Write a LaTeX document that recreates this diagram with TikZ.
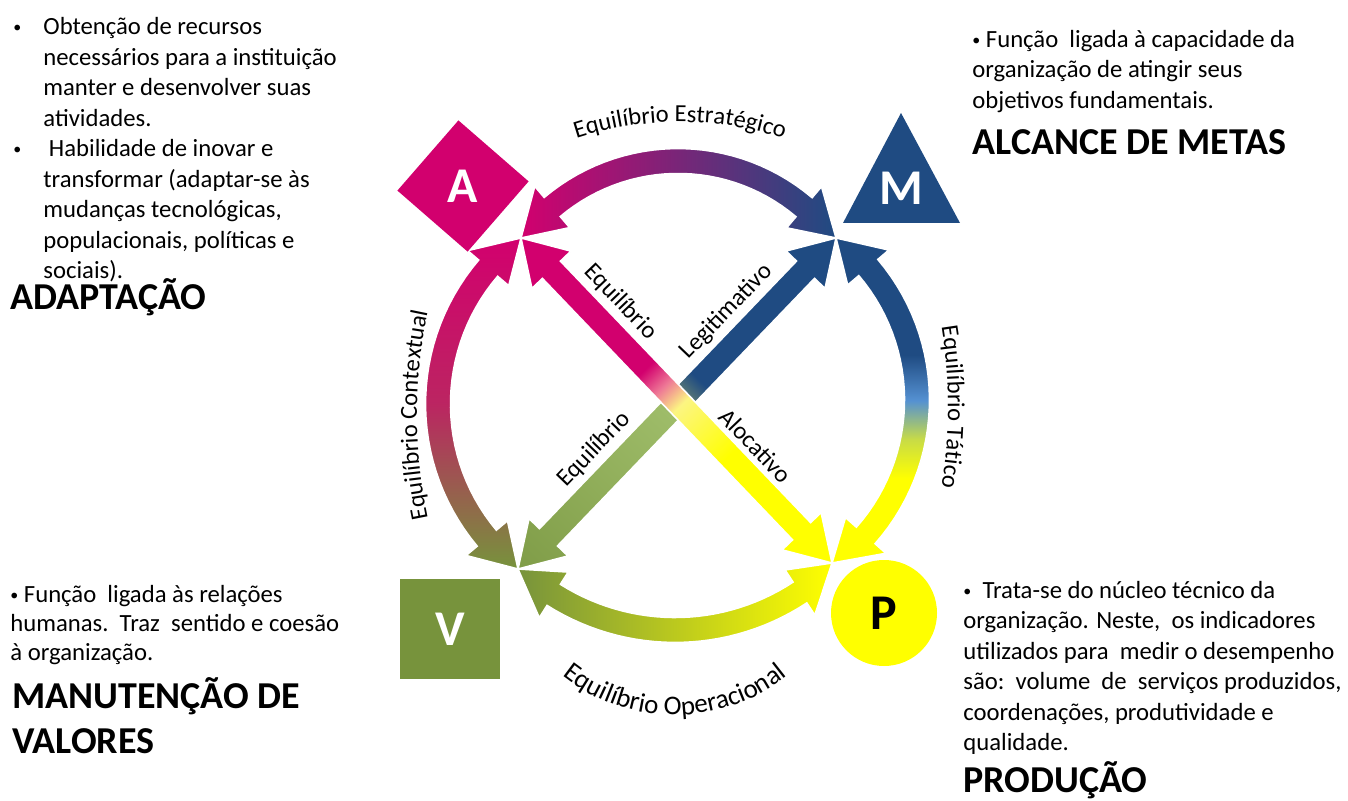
\documentclass[tikz,border=0pt]{standalone}
\usepackage{fontspec}
\setmainfont{Carlito}
\usetikzlibrary{calc,decorations.text}

\definecolor{magA}{RGB}{210,0,110}
\definecolor{navyM}{RGB}{31,75,130}
\definecolor{oliveV}{RGB}{119,147,60}
\definecolor{yellowP}{RGB}{255,255,0}
\definecolor{greenmid}{RGB}{158,188,105}
\definecolor{greenend}{RGB}{128,157,72}
\definecolor{skyblue}{RGB}{85,145,210}
\definecolor{pinkfade}{RGB}{238,120,150}
\definecolor{yellowfade}{RGB}{252,245,130}
\definecolor{greyfade}{RGB}{95,125,115}
\definecolor{limefade}{RGB}{200,220,70}

\pgfdeclarehorizontalshading{alocshade}{100bp}{color(0bp)=(magA); color(43bp)=(magA); color(47bp)=(pinkfade); color(51bp)=(yellowfade); color(62bp)=(yellowP); color(100bp)=(yellowP)}
\pgfdeclarehorizontalshading{legishade}{100bp}{color(0bp)=(navyM); color(45bp)=(navyM); color(48.5bp)=(greyfade); color(52bp)=(greenmid); color(85bp)=(greenend); color(100bp)=(greenend)}
\pgfdeclareverticalshading{taticoshade}{100bp}{color(0bp)=(yellowP); color(38bp)=(yellowP); color(44bp)=(limefade); color(50bp)=(skyblue); color(57bp)=(navyM); color(100bp)=(navyM)}

\newcommand{\arcfont}{\fontsize{12.25}{14}\selectfont}
\newcommand{\smallbullet}{\raisebox{0.8pt}{\fontsize{8}{8}\selectfont •}}

% curved band: centre, radius, tip angles, tips, shading
\newcommand{\bentarrow}[7]{%
  \pgfmathsetmacro{\hsign}{ifthenelse(#4>#3,1,-1)}
  \pgfmathsetmacro{\baseA}{#3+\hsign*44/#2*180/pi}
  \pgfmathsetmacro{\baseB}{#4-\hsign*44/#2*180/pi}
  \begin{scope}[shift={(#1)}]
    \shadedraw[bandline,#7] (#5) -- (\baseA:{#2+27}) -- (\baseA:{#2+12.5})
      -- plot[domain=\baseA:\baseB, samples=30] (\x:{#2+12.5})
      -- (\baseB:{#2+27}) -- (#6) -- (\baseB:{#2-27}) -- (\baseB:{#2-12.5})
      -- plot[domain=\baseB:\baseA, samples=30] (\x:{#2-12.5})
      -- (\baseA:{#2-27}) -- cycle;
  \end{scope}}

% straight band between two tips
\newcommand{\crossarrow}[3]{%
  \coordinate (baseS) at ($(#1)!22pt!(#2)$);
  \coordinate (baseE) at ($(#2)!22pt!(#1)$);
  \shadedraw[bandline,#3] (#1) -- ($(baseS)!13.5pt!90:(#2)$) -- ($(baseS)!6.25pt!90:(#2)$)
    -- ($(baseE)!6.25pt!-90:(#1)$) -- ($(baseE)!13.5pt!-90:(#1)$) -- (#2)
    -- ($(baseE)!13.5pt!90:(#1)$) -- ($(baseE)!6.25pt!90:(#1)$)
    -- ($(baseS)!6.25pt!-90:(#2)$) -- ($(baseS)!13.5pt!-90:(#2)$) -- cycle;}

\begin{document}
\begin{tikzpicture}[x=0.5pt,y=-0.5pt,
  bandline/.style={draw=white, line width=0.8pt},
  letter/.style={text=white, font=\bfseries\fontsize{25}{30}\selectfont},
  bodytext/.style={align=left, inner sep=0pt, anchor=north west, font=\fontsize{12.35}{15.25}\selectfont},
  heading/.style={inner sep=0pt, anchor=base west, font=\bfseries\fontsize{19}{22}\selectfont},
  diaglabel/.style={sloped, above=7.5pt, inner sep=1pt, font=\arcfont},
  bandtext/.style={decorate, decoration={text along path, text align=center, text={|\arcfont|#1}}}]
\fill[white] (0,0) rectangle (1348,801);
\useasboundingbox (0,0) rectangle (1348,801);

% hubs and centres
\coordinate (ptA) at (521,238);
\coordinate (ptM) at (836,238);
\coordinate (ptV) at (518,569);
\coordinate (ptP) at (832,563);
\coordinate (cTop) at (678,356);
\coordinate (cLeft) at (647,404);
\coordinate (cRight) at (712.5,400);
\coordinate (cBottom) at (675,403);

% curved bands
\bentarrow{cTop}{195}{216.9}{323.2}{ptA}{ptM}{left color=magA, right color=navyM}
\bentarrow{cLeft}{209}{232.6}{128}{ptA}{ptV}{top color=magA, bottom color=oliveV, middle color=magA!75!oliveV}
\bentarrow{cRight}{204.5}{-52.7}{53.8}{ptM}{ptP}{shading=taticoshade}
\bentarrow{cBottom}{227}{133.4}{45.5}{ptV}{ptP}{left color=oliveV, right color=yellowP}

% diagonals
\crossarrow{ptM}{ptV}{shading=legishade, shading angle=-134}
\crossarrow{ptA}{ptP}{shading=alocshade, shading angle=-46}

% the four shapes
\node[fill=magA, rotate=49, minimum size=46.5pt] (boxA) at (463,186) {};
\node[letter] (letA) at (boxA.center) {A};
\fill[navyM] (843,223) -- (901,113) -- (960,223) -- cycle;
\node[letter] (letM) at (901,188) {M};
\node[letter, fill=oliveV, minimum size=50pt] (boxV) at (450,629) {V};
\node[letter, circle, fill=yellowP, text=black, minimum size=53pt] (boxP) at (884,613) {P};

% labels on the bands
\path[bandtext={Equilíbrio Estratégico}]
  plot[domain=245:295, samples=61] ({680+333*cos(\x)},{455+333*sin(\x)});
\path[bandtext={Equilíbrio Contextual}]
  plot[domain=160:200, samples=61] ({917+500*cos(\x)},{415+500*sin(\x)});
\path[bandtext={Equilíbrio Tático}]
  plot[domain=-20:20, samples=61] ({448+500*cos(\x)},{407+500*sin(\x)});
\path[decorate, decoration={text along path, text align=center, text={|\fontsize{13.5}{16}\selectfont|Equilíbrio Operacional}}]
  plot[domain=133:47, samples=61] ({675+181*cos(\x)},{534+181*sin(\x)});
\path (ptA) -- (ptP) node[diaglabel, pos=0.256] (lblEqAP) {Equilíbrio}
                     node[diaglabel, pos=0.694] (lblAloc) {Alocativo};
\path (ptV) -- (ptM) node[diaglabel, pos=0.303] (lblEqVM) {Equilíbrio}
                     node[diaglabel, pos=0.719] (lblLegit) {Legitimativo};

% texts
\node[bodytext] (txtAdapt) at (13,17) {\makebox[15pt][l]{\smallbullet}Obtenção de recursos\\
  \hspace*{15pt}necessários para a instituição\\
  \hspace*{15pt}manter e desenvolver suas\\
  \hspace*{15pt}atividades.\\
  \makebox[15pt][l]{\smallbullet} Habilidade de inovar e\\
  \hspace*{15pt}transformar (adaptar-se às\\
  \hspace*{15pt}mudanças tecnológicas,\\
  \hspace*{15pt}populacionais, políticas e\\
  \hspace*{15pt}sociais).};
\node[heading] (hdAdapt) at (10,310) {ADAPTAÇÃO};

\node[bodytext] (txtMetas) at (972,29.5) {\smallbullet\ Função\ \ ligada à capacidade da\\
  organização de atingir seus\\
  objetivos fundamentais.};
\node[heading] (hdMetas) at (972,155) {ALCANCE DE METAS};

\node[bodytext, font=\fontsize{12.35}{14.6}\selectfont] (txtValor) at (10,585) {\smallbullet\ Função\ \ ligada às relações\\
  humanas.\ \ Traz\ \ sentido e coesão\\
  à organização.};
\node[heading] (hdManut) at (12,708) {MANUTENÇÃO DE};
\node[heading] (hdValor) at (12,753) {VALORES};

\node[bodytext] (txtProd) at (963,580.5) {\smallbullet\ \ Trata-se do núcleo técnico da\\
  organização. Neste,\ \ os indicadores\\
  utilizados para\ \ medir o desempenho\\
  são:\ \ volume\ \ de\ \ serviços produzidos,\\
  coordenações, produtividade e\\
  qualidade.};
\node[heading] (hdProd) at (963,792) {PRODUÇÃO};
\end{tikzpicture}
\end{document}
